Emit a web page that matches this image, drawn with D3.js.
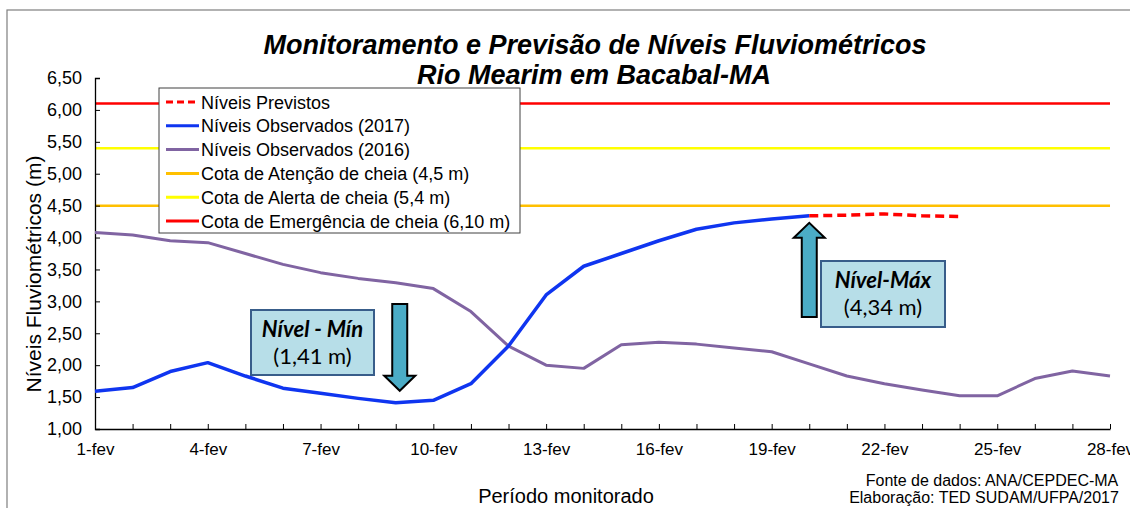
<!DOCTYPE html>
<html>
<head>
<meta charset="utf-8">
<script src="https://cdn.jsdelivr.net/npm/d3@7"></script>
<style>
  body { margin: 0; background: #fff; }
  svg { display: block; font-family: "Liberation Sans", Arial, sans-serif; }
  .callout { font-family: Lato, "Open Sans", sans-serif; }
</style>
</head>
<body>
<svg id="chart" width="1130" height="508"></svg>
<script>
const dayLabels = [
  "1-fev", "2-fev", "3-fev", "4-fev", "5-fev", "6-fev", "7-fev",
  "8-fev", "9-fev", "10-fev", "11-fev", "12-fev", "13-fev", "14-fev",
  "15-fev", "16-fev", "17-fev", "18-fev", "19-fev", "20-fev", "21-fev",
  "22-fev", "23-fev", "24-fev", "25-fev", "26-fev", "27-fev", "28-fev",
];

// niveis observados 2017 (1-fev .. 20-fev)
const obs2017 = [
  1.59, 1.65, 1.9, 2.04, 1.83, 1.64, 1.56, 1.48, 1.41, 1.45,
  1.71, 2.3, 3.1, 3.55, 3.75, 3.95, 4.13, 4.23, 4.29, 4.34,
];

// niveis previstos (20-fev .. 24-fev)
const prevDays = ["20-fev", "21-fev", "22-fev", "23-fev", "24-fev"];
const previstos = [4.34, 4.35, 4.37, 4.34, 4.33];

// niveis observados 2016 (1-fev .. 28-fev)
const obs2016 = [
  4.08, 4.04, 3.95, 3.92, 3.75, 3.58, 3.45, 3.36, 3.29, 3.2,
  2.84, 2.3, 2.0, 1.95, 2.32, 2.36, 2.33, 2.27, 2.21, 2.02,
  1.83, 1.71, 1.61, 1.52, 1.52, 1.79, 1.91, 1.83,
];

const cotas = [
  { name: "Cota de Atenção de cheia (4,5 m)", value: 4.5, color: "#ffc000" },
  { name: "Cota de Alerta de cheia (5,4 m)", value: 5.4, color: "#ffff00" },
  { name: "Cota de Emergência de cheia (6,10 m)", value: 6.1, color: "#ff0000" },
];

const yTicks = [1, 1.5, 2, 2.5, 3, 3.5, 4, 4.5, 5, 5.5, 6, 6.5];
const xTickLabels = ["1-fev", "4-fev", "7-fev", "10-fev", "13-fev", "16-fev", "19-fev", "22-fev", "25-fev", "28-fev"];

const minNivel = { day: "9-fev", value: 1.41, title: "Nível - Mín", label: "(1,41 m)" };
const maxNivel = { day: "20-fev", value: 4.34, title: "Nível-Máx", label: "(4,34 m)" };

const PLOT = { left: 95, right: 1110, top: 78, bottom: 429 };

const svg = d3.select("#chart");

// outer frame
svg.append("rect")
  .attr("x", 7).attr("y", 10)
  .attr("width", 1140).attr("height", 520)
  .attr("fill", "#fff")
  .attr("stroke", "#7f7f7f")
  .attr("stroke-width", 1.2);

const x = d3.scalePoint()
  .domain(dayLabels)
  .range([PLOT.left, PLOT.right])
  .padding(0);

const y = d3.scaleLinear()
  .domain([1, 6.5])
  .range([PLOT.bottom, PLOT.top]);

const fmt = (v) => d3.format(".2f")(v).replace(".", ",");

// title
const title = svg.append("g")
  .attr("font-weight", "bold")
  .attr("font-style", "italic")
  .attr("font-size", 27)
  .attr("text-anchor", "middle");

title.append("text").attr("x", 595).attr("y", 54)
  .text("Monitoramento e Previsão de Níveis Fluviométricos");
title.append("text").attr("x", 594).attr("y", 84)
  .text("Rio Mearim em Bacabal-MA");

// threshold lines
svg.append("g")
  .selectAll("line")
  .data(cotas)
  .join("line")
  .attr("x1", PLOT.left)
  .attr("x2", PLOT.right)
  .attr("y1", (d) => y(d.value))
  .attr("y2", (d) => y(d.value))
  .attr("stroke", (d) => d.color)
  .attr("stroke-width", 2.5);

// axes
const yAxis = d3.axisLeft(y)
  .tickValues(yTicks)
  .tickFormat(fmt)
  .tickSize(-5)
  .tickPadding(13);

const yAxisG = svg.append("g")
  .attr("transform", `translate(${PLOT.left},0)`)
  .call(yAxis);
yAxisG.select(".domain").attr("stroke", "#000").attr("stroke-width", 1.3);
yAxisG.selectAll(".tick line").attr("stroke", "#000");
yAxisG.selectAll(".tick text")
  .attr("font-size", 18)
  .attr("font-family", "Liberation Sans, Arial, sans-serif")
  .attr("fill", "#000");

const xAxis = d3.axisBottom(x)
  .tickFormat((d) => (xTickLabels.includes(d) ? d : ""))
  .tickSize(-5)
  .tickSizeOuter(0)
  .tickPadding(14);

const xAxisG = svg.append("g")
  .attr("transform", `translate(0,${PLOT.bottom})`)
  .call(xAxis);
xAxisG.select(".domain").attr("stroke", "#000").attr("stroke-width", 1.3);
xAxisG.selectAll(".tick line").attr("stroke", "#000");
xAxisG.selectAll(".tick text")
  .attr("font-size", 17)
  .attr("font-family", "Liberation Sans, Arial, sans-serif")
  .attr("fill", "#000");

// axis titles
svg.append("text")
  .attr("transform", "translate(41,274) rotate(-90)")
  .attr("text-anchor", "middle")
  .attr("font-size", 21)
  .text("Níveis Fluviométricos (m)");

svg.append("text")
  .attr("x", 566).attr("y", 503)
  .attr("text-anchor", "middle")
  .attr("font-size", 20)
  .text("Período monitorado");

const fonte = svg.append("g")
  .attr("font-size", 16)
  .attr("text-anchor", "middle");
fonte.append("text").attr("x", 992).attr("y", 486).text("Fonte de dados: ANA/CEPDEC-MA");
fonte.append("text").attr("x", 984).attr("y", 503).text("Elaboração: TED SUDAM/UFPA/2017");

// series
const line = d3.line()
  .x((d) => x(d[0]))
  .y((d) => y(d[1]));

svg.append("path")
  .datum(obs2016.map((v, i) => [dayLabels[i], v]))
  .attr("fill", "none")
  .attr("stroke", "#8064a2")
  .attr("stroke-width", 3)
  .attr("stroke-linejoin", "round")
  .attr("d", line);

svg.append("path")
  .datum(obs2017.map((v, i) => [dayLabels[i], v]))
  .attr("fill", "none")
  .attr("stroke", "#0f35f0")
  .attr("stroke-width", 3.5)
  .attr("stroke-linejoin", "round")
  .attr("d", line);

svg.append("path")
  .datum(previstos.map((v, i) => [prevDays[i], v]))
  .attr("fill", "none")
  .attr("stroke", "#ff0000")
  .attr("stroke-width", 3.5)
  .attr("stroke-dasharray", "9 5")
  .attr("d", line);

// legend
const legendItems = [
  { name: "Níveis Previstos", color: "#ff0000", dash: "7 4" },
  { name: "Níveis Observados (2017)", color: "#0f35f0", dash: null },
  { name: "Níveis Observados (2016)", color: "#8064a2", dash: null },
  ...cotas.map((c) => ({ name: c.name, color: c.color, dash: null })),
];

const legend = svg.append("g").attr("transform", "translate(159,88)");
legend.append("rect")
  .attr("width", 361)
  .attr("height", 145)
  .attr("fill", "#fff")
  .attr("stroke", "#404040")
  .attr("stroke-width", 1);

const rows = legend.selectAll(".row")
  .data(legendItems)
  .join("g")
  .attr("class", "row")
  .attr("transform", (d, i) => `translate(0,${14 + i * 23.8})`);

rows.append("line")
  .attr("x1", 7).attr("x2", 40)
  .attr("stroke", (d) => d.color)
  .attr("stroke-width", 3)
  .attr("stroke-dasharray", (d) => d.dash);

rows.append("text")
  .attr("x", 42)
  .attr("y", 6.5)
  .attr("font-size", 18)
  .text((d) => d.name);

// callouts
function callout({ x0, y0, w, h, item }) {
  const g = svg.append("g").attr("class", "callout");
  g.append("rect")
    .attr("x", x0).attr("y", y0)
    .attr("width", w).attr("height", h)
    .attr("fill", "#b7dee8")
    .attr("stroke", "#385d8a")
    .attr("stroke-width", 2);
  g.append("text")
    .attr("x", x0 + w / 2).attr("y", y0 + 27)
    .attr("text-anchor", "middle")
    .attr("font-size", 22)
    .attr("font-weight", "bold")
    .attr("font-style", "italic")
    .text(item.title);
  g.append("text")
    .attr("x", x0 + w / 2).attr("y", y0 + 54)
    .attr("text-anchor", "middle")
    .attr("font-size", 22)
    .text(item.label);
}

callout({ x0: 251, y0: 310, w: 123, h: 65, item: minNivel });
callout({ x0: 821, y0: 261, w: 124, h: 66, item: maxNivel });

// block arrows
function blockArrow(cx, tail, tip) {
  const dir = tip > tail ? 1 : -1;
  const headLen = 15;
  const sw = 7.5;
  const hw = 15.5;
  const base = tip - dir * headLen;
  const pts = [
    [cx - sw, tail], [cx + sw, tail], [cx + sw, base], [cx + hw, base],
    [cx, tip], [cx - hw, base], [cx - sw, base],
  ];
  svg.append("path")
    .attr("d", d3.line()(pts) + "Z")
    .attr("fill", "#4bacc6")
    .attr("stroke", "#000")
    .attr("stroke-width", 2)
    .attr("stroke-linejoin", "miter");
}

blockArrow(x(minNivel.day) + 4, 304, y(minNivel.value) - 12);
blockArrow(x(maxNivel.day), 317, y(maxNivel.value) + 7);
</script>
</body>
</html>
